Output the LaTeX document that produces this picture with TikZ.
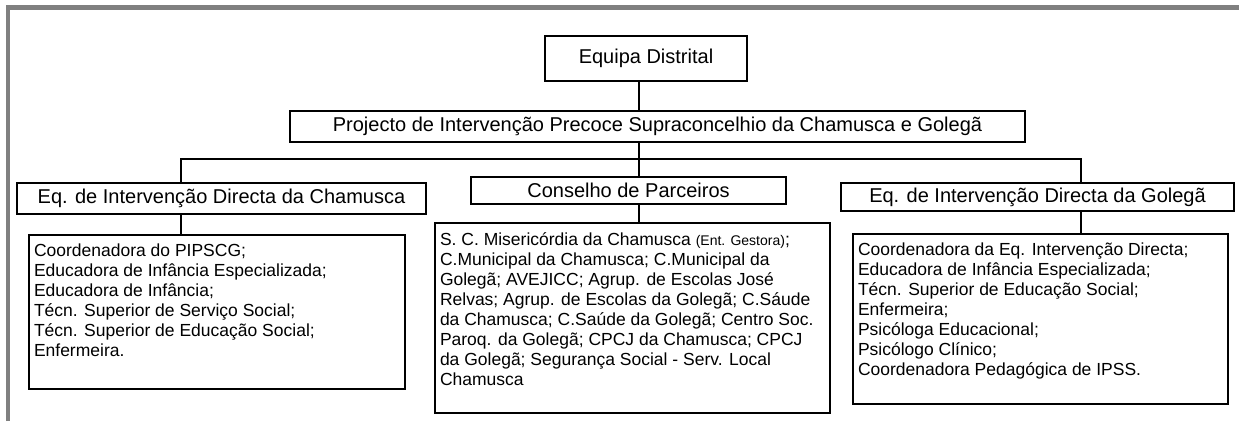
\documentclass[tikz,border=0pt]{standalone}
\usepackage{fontspec}
\setmainfont{Liberation Sans}
\newcommand{\lstfont}{\fontsize{17.5}{20}\selectfont}
\begin{document}
\begin{tikzpicture}[x=1pt,y=-1pt,
  hdr/.style={draw, line width=2pt, inner sep=0pt, align=center, font=\fontsize{20}{23}\selectfont},
  lst/.style={draw, line width=2pt, inner xsep=5pt, inner ysep=0pt, anchor=north west},
  link/.style={line width=2pt},
  bus/.style={line width=2.6pt},
  framel/.style={draw={rgb,255:red,128;green,128;blue,128}, line width=4.5pt}]
\useasboundingbox (0,0) rectangle (1239,421);
\draw[framel] (8,421) -- (8,7.5) -- (1239,7.5);

\node[hdr, minimum width=202pt, minimum height=45pt] (eq) at (646,58.5) {Equipa Distrital};
\node[hdr, minimum width=735pt, minimum height=31pt] (proj) at (657.5,126.5) {Projecto de Intervenção Precoce Supraconcelhio da Chamusca e Golegã};
\node[hdr, minimum width=409pt, minimum height=31pt] (chh) at (221.5,198.5) {Eq. de Intervenção Directa da Chamusca};
\node[hdr, minimum width=315pt, minimum height=27pt] (con) at (628.5,190.5) {Conselho de Parceiros};
\node[hdr, minimum width=393pt, minimum height=28pt] (golh) at (1037.5,197) {Eq. de Intervenção Directa da Golegã};

\node[lst] (chl) at (28,234) {\begin{minipage}[t][154pt][t]{366pt}\lstfont\rule{0pt}{21.5pt}Coordenadora do PIPSCG;\\
Educadora de Infância Especializada;\\
Educadora de Infância;\\
Técn. Superior de Serviço Social;\\
Técn. Superior de Educação Social;\\
Enfermeira.\end{minipage}};

\node[lst] (conl) at (434,222) {\begin{minipage}[t][190pt][t]{385pt}\lstfont\rule{0pt}{22.5pt}S. C. Misericórdia da Chamusca {\fontsize{14}{20}\selectfont(Ent. Gestora)};\\
C.Municipal da Chamusca; C.Municipal da\\
Golegã; AVEJICC; Agrup. de Escolas José\\
Relvas; Agrup. de Escolas da Golegã; C.Sáude\\
da Chamusca; C.Saúde da Golegã; Centro Soc.\\
Paroq. da Golegã; CPCJ da Chamusca; CPCJ\\
da Golegã; Segurança Social - Serv. Local\\
Chamusca\end{minipage}};

\node[lst] (goll) at (852,233) {\begin{minipage}[t][170pt][t]{365pt}\lstfont\rule{0pt}{21.5pt}Coordenadora da Eq. Intervenção Directa;\\
Educadora de Infância Especializada;\\
Técn. Superior de Educação Social;\\
Enfermeira;\\
Psicóloga Educacional;\\
Psicólogo Clínico;\\
Coordenadora Pedagógica de IPSS.\end{minipage}};

\coordinate (mx) at (639,0);
\coordinate (lx) at (181,0);
\coordinate (rx) at (1081,0);
\coordinate (busy) at (0,159);

\draw[link] (eq.south -| mx) -- (proj.north -| mx);
\draw[link] (proj.south -| mx) -- (con.north -| mx);
\draw[bus] (chh.north -| lx) -- (lx |- busy) -- (rx |- busy) -- (golh.north -| rx);
\draw[link] (chh.south -| lx) -- (chl.north -| lx);
\draw[link] (con.south -| mx) -- (conl.north -| mx);
\draw[link] (golh.south -| rx) -- (goll.north -| rx);
\end{tikzpicture}
\end{document}
